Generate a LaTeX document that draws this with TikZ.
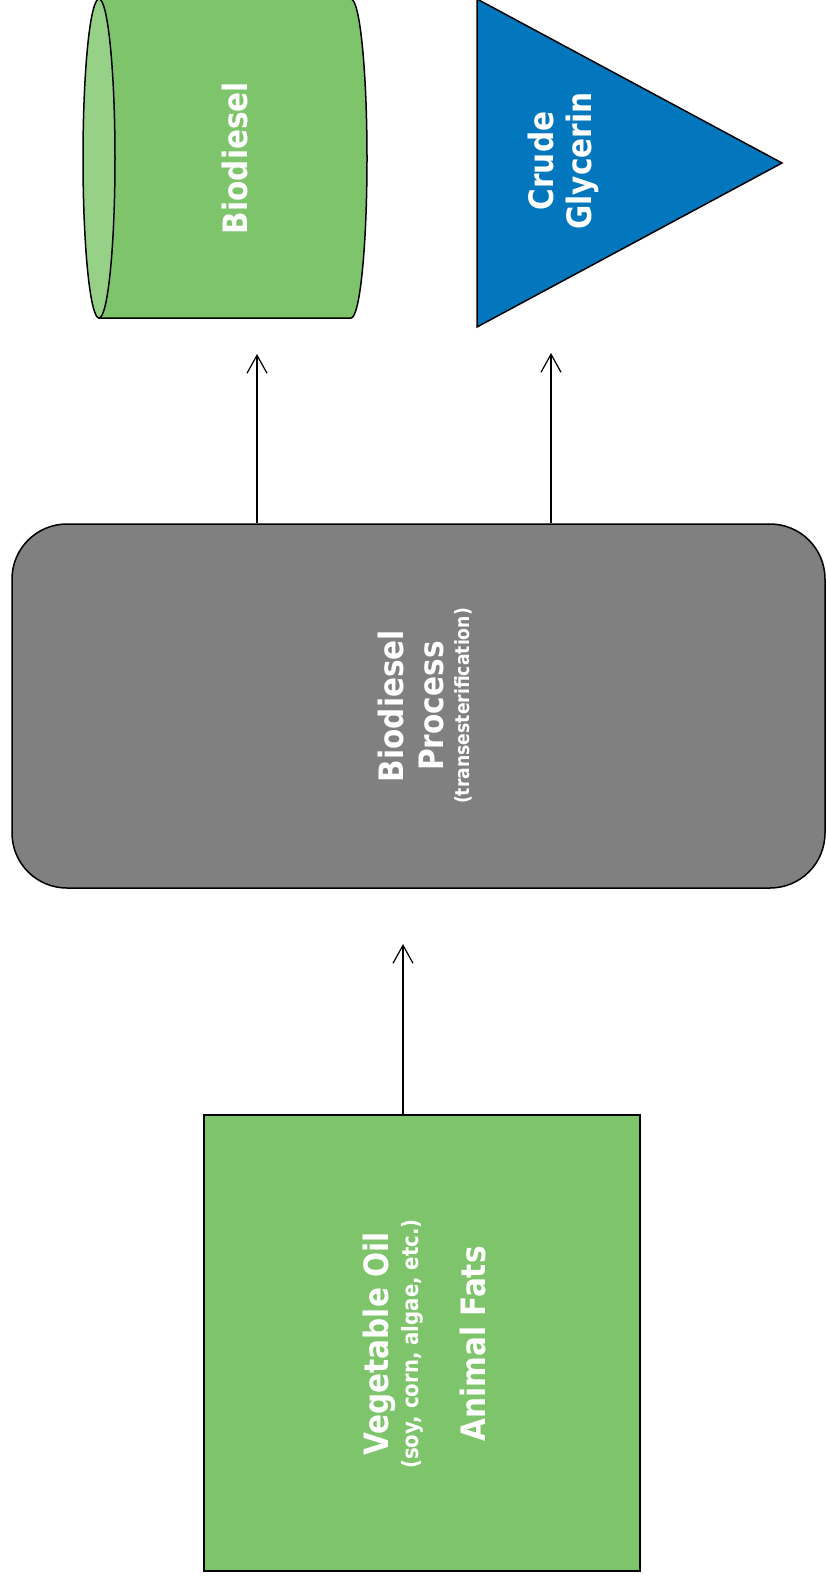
\documentclass[tikz,border=0pt]{standalone}
\usepackage{fontspec}
\usetikzlibrary{arrows.meta}
\newfontfamily\lblfont{DejaVu Sans}[FakeStretch=0.88]
\definecolor{oilgreen}{RGB}{126,196,106}
\definecolor{lightgreen}{RGB}{151,208,135}
\definecolor{glyblue}{RGB}{2,119,189}
\definecolor{procgray}{RGB}{128,128,128}
\tikzset{
  shapeline/.style={draw=black, line width=1.5pt},
  lbl/.style={text=white, font=\lblfont\bfseries\fontsize{33.6}{38}\selectfont, align=center, rotate=90, inner sep=0pt},
  arr/.style={draw=black, line width=1.2pt, -{Straight Barb[length=18pt,width=20pt,line width=1.2pt]}},
}
\begin{document}
\begin{tikzpicture}[x=1pt,y=-1pt]
\useasboundingbox (0,0) rectangle (826,1585);
% cylinder (Biodiesel tank)
\path[shapeline, fill=oilgreen] (99,-1) -- (351,-1) arc[start angle=90, end angle=-90, x radius=16pt, y radius=159.5pt] -- (99,318) -- cycle;
\path[shapeline, fill=lightgreen] (99,158.5) ellipse [x radius=16pt, y radius=159.5pt];
\node[lbl] (biod) at (234.5,158) {Biodiesel};
% triangle (Crude Glycerin)
\path[shapeline, fill=glyblue] (477,-1) -- (782,163) -- (477,327) -- cycle;
\node[lbl] (glyc) at (563,161) {Crude\\Glycerin};
% process
\node[shapeline, fill=procgray, rounded corners=55pt, minimum width=813pt, minimum height=364pt, inner sep=0pt] (proc) at (418.5,706) {};
\node[lbl] (proctxt) at (425,706) {Biodiesel\\[2pt]Process\\[-12pt]{\fontsize{19.6}{22}\selectfont (transesterification)}};
% feedstock
\node[shapeline, fill=oilgreen, minimum width=436pt, minimum height=456pt, inner sep=0pt] (feed) at (422,1343) {};
\node[lbl] (feedtxt) at (424,1344) {Vegetable Oil\\[-8pt]{\fontsize{22.4}{26}\selectfont (soy, corn, algae, etc.)}\\[29pt]Animal Fats};
% arrows
\coordinate (tipA) at (257,354);
\coordinate (tipB) at (551,353);
\coordinate (tipC) at (403,944);
\draw[arr] (proc.north -| tipA) -- (tipA);
\draw[arr] (proc.north -| tipB) -- (tipB);
\draw[arr] (feed.north -| tipC) -- (tipC);
\end{tikzpicture}
\end{document}
